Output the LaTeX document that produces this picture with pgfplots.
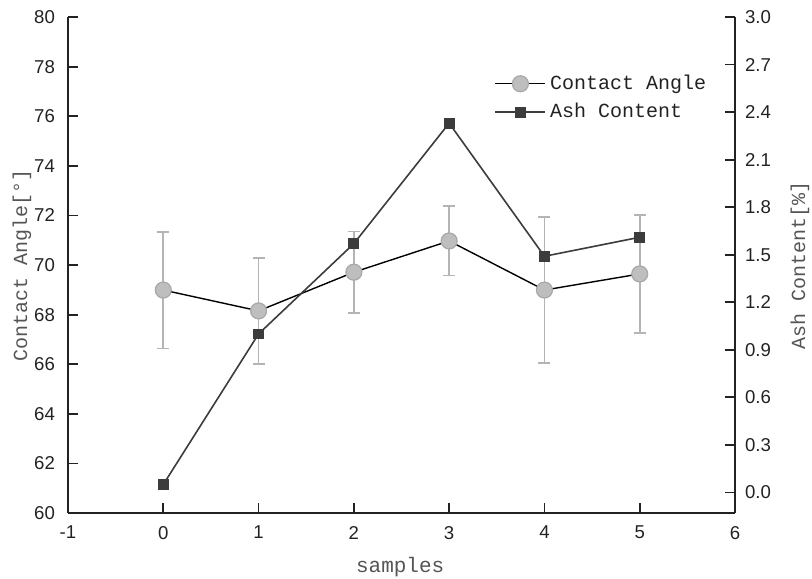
\documentclass[border=0pt]{standalone}
\usepackage{pgfplots}
\pgfplotsset{compat=1.18}
\usepackage{fontspec}
\setmainfont{Liberation Sans}
\newfontfamily\mono{Liberation Mono}
\definecolor{cafill}{HTML}{BEBEBE}
\definecolor{caedge}{HTML}{A8A8A8}
\definecolor{errc}{HTML}{B4B4B4}
\definecolor{ash}{HTML}{3C3C3C}
\definecolor{axc}{HTML}{222222}
\definecolor{labc}{HTML}{555555}

\pgfplotstableread{
x y e
0 68.99 2.35
1 68.15 2.14
2 69.71 1.64
3 70.97 1.40
4 68.99 2.95
5 69.64 2.37
}\contact

\pgfplotstableread{
x y
0 0.05
1 1.00
2 1.57
3 2.33
4 1.49
5 1.61
}\ashdata

\begin{document}
\begin{tikzpicture}
\path[use as bounding box] (-34pt,-32.5pt) rectangle (372pt,256.5pt);
\pgfplotsset{
  every axis/.append style={
    width=333.5pt, height=248pt, scale only axis,
    xmin=-1, xmax=6,
    tick align=inside, major tick length=5pt,
    /pgf/number format/assume math mode=true,
    every tick label/.append style={font=\fontsize{9.3}{11}\selectfont, color=axc},
    axis line style={line width=0.9pt, color=axc},
    tick style={line width=0.9pt, color=axc},
    label style={font=\mono\fontsize{10.5}{12}\selectfont, color=labc},
    clip=false,
  },
  caline/.style={black, line width=0.7pt, mark=*, mark size=4pt,
    mark options={fill=cafill, draw=caedge, line width=0.6pt}},
  ashline/.style={ash, line width=0.8pt, mark=square*, mark size=2.3pt,
    mark options={fill=ash, draw=ash}},
}
\begin{axis}[
  at={(0pt,0pt)}, anchor=south west,
  axis x line*=bottom, axis y line*=left,
  ymin=60, ymax=80,
  xtick={-1,0,...,6},
  ytick={60,62,...,80},
  xticklabel style={yshift=-3pt},
  yticklabel style={xshift=-3pt},
  xlabel={samples},
  ylabel={Contact Angle[°]},
  xlabel style={at={(axis description cs:0.498,-0.109)}, anchor=center},
  ylabel style={at={(axis description cs:-0.069,0.5)}, anchor=center, font=\mono\fontsize{10}{12}\selectfont},
]
\addplot[caline, error bars/.cd, y dir=both, y explicit,
  error bar style={errc, line width=0.8pt},
  error mark options={rotate=90, errc, mark size=3pt, line width=0.8pt}]
  table[x=x, y=y, y error=e] {\contact};
\end{axis}
\begin{axis}[
  at={(0pt,0pt)}, anchor=south west,
  axis x line=none, axis y line*=right,
  ymin=-0.13, ymax=3.0,
  ytick={0,0.3,0.6,0.9,1.2,1.5,1.8,2.1,2.4,2.7,3.0},
  yticklabel style={xshift=1.5pt, /pgf/number format/.cd, fixed, fixed zerofill, precision=1},
  ylabel={Ash Content[\%]},
  ylabel style={at={(axis description cs:1.0975,0.5)}, anchor=center, rotate=0, font=\mono\fontsize{10}{12}\selectfont},
  legend style={at={(axis description cs:0.63,0.9)}, anchor=north west,
    draw=none, fill=none, font=\mono\fontsize{10}{12}\selectfont,
    text=axc, row sep=1.5pt},
  legend cell align=left,
  legend image code/.code={\draw[mark repeat=2,mark phase=2] plot coordinates {(0pt,0pt)(12.5pt,0pt)(25pt,0pt)};},
]
\addlegendimage{caline}
\addlegendentry{Contact Angle}
\addplot[ashline] table[x=x, y=y] {\ashdata};
\addlegendentry{Ash Content}
\end{axis}
\end{tikzpicture}
\end{document}
